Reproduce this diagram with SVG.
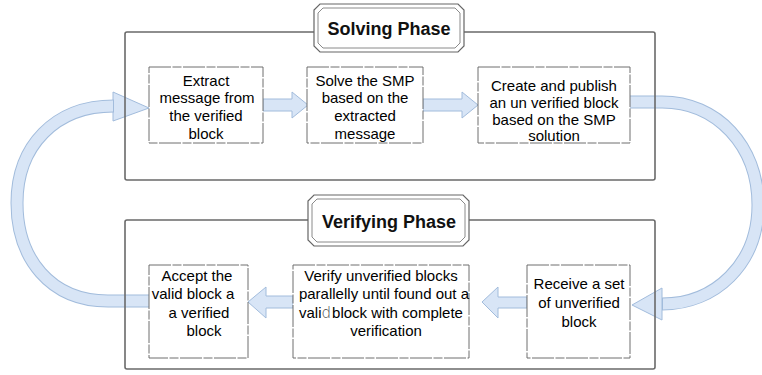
<svg xmlns="http://www.w3.org/2000/svg" width="762" height="375" viewBox="0 0 762 375">
<defs>
<style>
.frame{fill:none;stroke:#6a6a6a;stroke-width:1.6}
.box{fill:#ffffff;stroke:#6e6e6e;stroke-width:1;stroke-dasharray:22 1.5 9 1.5}
.t{font-family:"Liberation Sans",Arial,sans-serif;font-size:15px;fill:#000;text-anchor:middle}
.title{font-family:"Liberation Sans",Arial,sans-serif;font-size:18px;font-weight:bold;fill:#111;text-anchor:middle}
.tout{fill:#fff;stroke:#666;stroke-width:1.2}
.tin{fill:none;stroke:#8a8a8a;stroke-width:1}
.arr{fill:#d8e5f6;stroke:#a2bcdc;stroke-width:1}
.cb{fill:none;stroke:#a2bcdc;stroke-width:13}
.ci{fill:none;stroke:#d8e5f6;stroke-width:11}
.thin{font-family:"DejaVu Sans",sans-serif;font-weight:200;fill:#444}
</style>
</defs>
<rect width="762" height="375" fill="#ffffff"/>

<g id="connectors">
  <!-- right curved arrow: Create and publish -> Receive -->
  <polygon class="arr" points="632,305 662,288 662,320"/>
  <path class="cb" d="M630,102 L662,102 C717,102 758,146 758,205 C758,264 715,304 662,304"/>
  <path class="ci" d="M629,102 L662,102 C717,102 758,146 758,205 C758,264 715,304 663,304"/>
  <!-- left curved arrow: Accept -> Extract -->
  <polygon class="arr" points="149,108 113,92 113,121"/>
  <path class="cb" d="M149,301 L108,301 C50,301 17,258 17,203 C17,146 55,106 114,106"/>
  <path class="ci" d="M150,301 L108,301 C50,301 17,258 17,203 C17,146 55,106 113,106"/>
  <!-- straight arrows -->
  <polygon class="arr" points="263,99 292,99 292,92 308,105 292,118 292,111 263,111"/>
  <polygon class="arr" points="423,99 462,99 462,92 478,105 462,118 462,111 423,111"/>
  <polygon class="arr" points="527,297 498,297 498,287 482,302 498,318 498,308 527,308"/>
  <polygon class="arr" points="293,296 266,296 266,287 248,302 266,318 266,308 293,308"/>
</g>

<g id="solving-phase">
  <rect class="frame" x="125" y="32" width="530" height="148" rx="2"/>
  <polygon class="tout" points="320,4 458,4 464,10 464,46 458,52 320,52 314,46 314,10"/>
  <polygon class="tin" points="323,8 455,8 460,13 460,43 455,48 323,48 318,43 318,13"/>
  <text class="title" x="389" y="35">Solving Phase</text>
</g>

<g id="verifying-phase">
  <rect class="frame" x="125" y="220" width="530" height="149" rx="2"/>
  <polygon class="tout" points="314,195 463,195 469,201 469,240 463,246 314,246 308,240 308,201"/>
  <polygon class="tin" points="317,199 460,199 465,204 465,237 460,242 317,242 312,237 312,204"/>
  <text class="title" x="389" y="228">Verifying Phase</text>
</g>

<g id="node-extract">
  <rect class="box" x="149" y="67" width="114" height="76"/>
  <text class="t" x="206" y="86">Extract</text>
  <text class="t" x="207" y="103">message from</text>
  <text class="t" x="206" y="121">the verified</text>
  <text class="t" x="206" y="139">block</text>
</g>

<g id="node-solve">
  <rect class="box" x="307" y="67" width="116" height="76"/>
  <text class="t" x="365" y="86">Solve the SMP</text>
  <text class="t" x="365" y="103">based on the</text>
  <text class="t" x="365" y="121">extracted</text>
  <text class="t" x="365" y="139">message</text>
</g>

<g id="node-create">
  <rect class="box" x="478" y="67" width="152" height="76"/>
  <text class="t" x="554" y="91">Create and publish</text>
  <text class="t" x="554" y="108">an un verified block</text>
  <text class="t" x="554" y="125">based on the SMP</text>
  <text class="t" x="554" y="141">solution</text>
</g>

<g id="node-receive">
  <rect class="box" x="527" y="265" width="103" height="93"/>
  <text class="t" x="579" y="289">Receive a set</text>
  <text class="t" x="579" y="308">of unverified</text>
  <text class="t" x="579" y="327">block</text>
</g>

<g id="node-verify">
  <rect class="box" x="293" y="265" width="176" height="93"/>
  <text class="t" x="381" y="281">Verify unverified blocks</text>
  <text class="t" x="384" y="299">parallelly until found out a</text>
  <text class="t" x="381" y="318">vali<tspan class="thin">d</tspan><tspan dx="1">block with complete</tspan></text>
  <text class="t" x="386" y="336">verification</text>
</g>

<g id="node-accept">
  <rect class="box" x="149" y="265" width="99" height="93"/>
  <text class="t" x="197" y="281">Accept the</text>
  <text class="t" x="193" y="299">valid block a</text>
  <text class="t" x="199" y="318">a verified</text>
  <text class="t" x="204" y="336">block</text>
</g>
</svg>
